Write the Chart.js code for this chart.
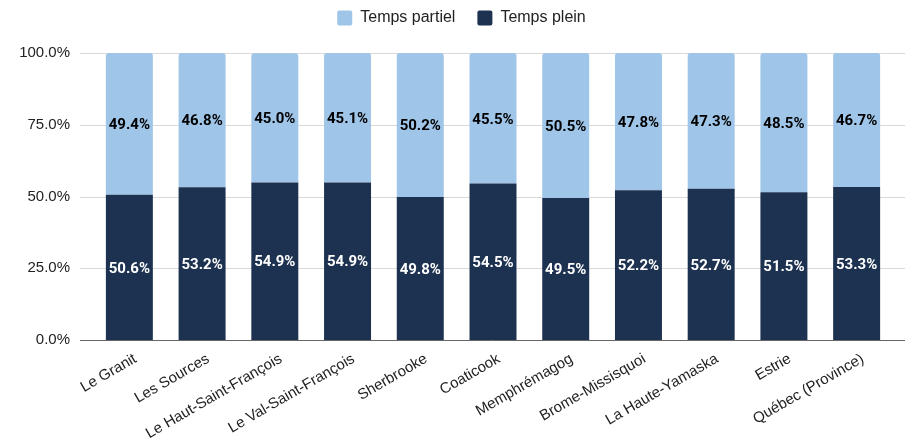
<!DOCTYPE html>
<html>
<head>
<meta charset="utf-8">
<script src="https://cdn.jsdelivr.net/npm/chart.js@4/dist/chart.umd.min.js"></script>
<style>
  html, body { margin: 0; padding: 0; background: #fff; }
  #wrap { width: 909px; height: 443px; position: relative; }
</style>
</head>
<body>
<div id="wrap"><canvas id="c"></canvas></div>
<script>
const categories = ["Le Granit", "Les Sources", "Le Haut-Saint-François", "Le Val-Saint-François", "Sherbrooke", "Coaticook", "Memphrémagog", "Brome-Missisquoi", "La Haute-Yamaska", "Estrie", "Québec (Province)"];
const tempsPlein = [50.6, 53.2, 54.9, 54.9, 49.8, 54.5, 49.5, 52.2, 52.7, 51.5, 53.3];
const tempsPartiel = [49.4, 46.8, 45.0, 45.1, 50.2, 45.5, 50.5, 47.8, 47.3, 48.5, 46.7];
const yTicks = [0, 25, 50, 75, 100];

const FONT = "Arial, 'Liberation Sans', sans-serif";
const LABEL_FONT = "Roboto, Arial, sans-serif";

const legendFitPlugin = {
  id: 'legendFit',
  beforeUpdate(chart) {
    const lg = chart.legend;
    if (lg && !lg._patched) {
      const f = lg.fit;
      lg.fit = function () { f.call(this); this.height = 65; };
      lg._patched = true;
    }
  },
  afterLayout(chart) {
    const lg = chart.legend;
    if (lg) { lg.left += 15; lg.right += 15; }
  }
};

const gridPlugin = {
  id: 'extendedGrid',
  beforeDatasetsDraw(chart) {
    const { ctx, chartArea, scales } = chart;
    const y = scales.y;
    ctx.save();
    y.ticks.forEach(t => {
      const py = Math.round(y.getPixelForValue(t.value)) + 0.5;
      ctx.beginPath();
      ctx.strokeStyle = t.value === 0 ? '#666666' : '#d9d9d9';
      ctx.lineWidth = 1;
      ctx.moveTo(chartArea.left - 13, py);
      ctx.lineTo(chartArea.right + 12, py);
      ctx.stroke();
    });
    ctx.restore();
  }
};

const labelPlugin = {
  id: 'segLabels',
  afterDatasetsDraw(chart) {
    const { ctx } = chart;
    ctx.save();
    ctx.font = "bold 15px " + LABEL_FONT;
    ctx.textAlign = 'center';
    ctx.textBaseline = 'middle';
    chart.data.datasets.forEach((ds, di) => {
      const meta = chart.getDatasetMeta(di);
      meta.data.forEach((bar, i) => {
        const v = ds.data[i];
        const cy = (bar.y + bar.base) / 2 + 1.5;
        ctx.fillStyle = ds.labelColor;
        ctx.fillText(v.toFixed(1) + '%', bar.x, cy);
      });
    });
    ctx.restore();
  }
};

new Chart(document.getElementById('c'), {
  type: 'bar',
  data: {
    labels: categories,
    datasets: [
      {
        label: 'Temps plein',
        data: tempsPlein,
        backgroundColor: '#1d3150',
        borderRadius: 0,
        labelColor: '#ffffff',
        barPercentage: 0.646,
        categoryPercentage: 1.0
      },
      {
        label: 'Temps partiel',
        data: tempsPartiel,
        backgroundColor: '#9fc5e8',
        borderRadius: { topLeft: 3, topRight: 3, bottomLeft: 0, bottomRight: 0 },
        borderSkipped: 'start',
        labelColor: '#000000',
        barPercentage: 0.646,
        categoryPercentage: 1.0
      }
    ]
  },
  options: {
    responsive: true,
    maintainAspectRatio: false,
    animation: false,
    layout: { padding: { left: 0, right: 16, top: -12, bottom: 0 } },
    plugins: {
      legend: {
        position: 'top',
        align: 'center',
        reverse: true,
        labels: {
          boxWidth: 15,
          boxHeight: 15,
          useBorderRadius: true,
          borderRadius: 2,
          padding: 22,
          color: '#222222',
          font: { family: FONT, size: 16 }
        }
      },
      tooltip: { enabled: false }
    },
    scales: {
      x: {
        stacked: true,
        grid: { display: false, drawTicks: false },
        border: { display: false },
        ticks: {
          minRotation: 30,
          maxRotation: 30,
          autoSkip: false,
          padding: 10,
          labelOffset: 6,
          color: '#222222',
          font: { family: FONT, size: 15 }
        },
        afterFit(scale) { scale.height = 103; }
      },
      y: {
        stacked: true,
        min: 0,
        max: 100,
        afterBuildTicks(scale) { scale.ticks = yTicks.map(v => ({ value: v })); },
        grid: { display: false, drawTicks: false },
        border: { display: false },
        ticks: {
          padding: 23,
          color: '#222222',
          font: { family: FONT, size: 15 },
          callback: v => v.toFixed(1) + '%'
        },
        afterFit(scale) { scale.width = 93; }
      }
    }
  },
  plugins: [legendFitPlugin, gridPlugin, labelPlugin]
});
</script>
</body>
</html>
